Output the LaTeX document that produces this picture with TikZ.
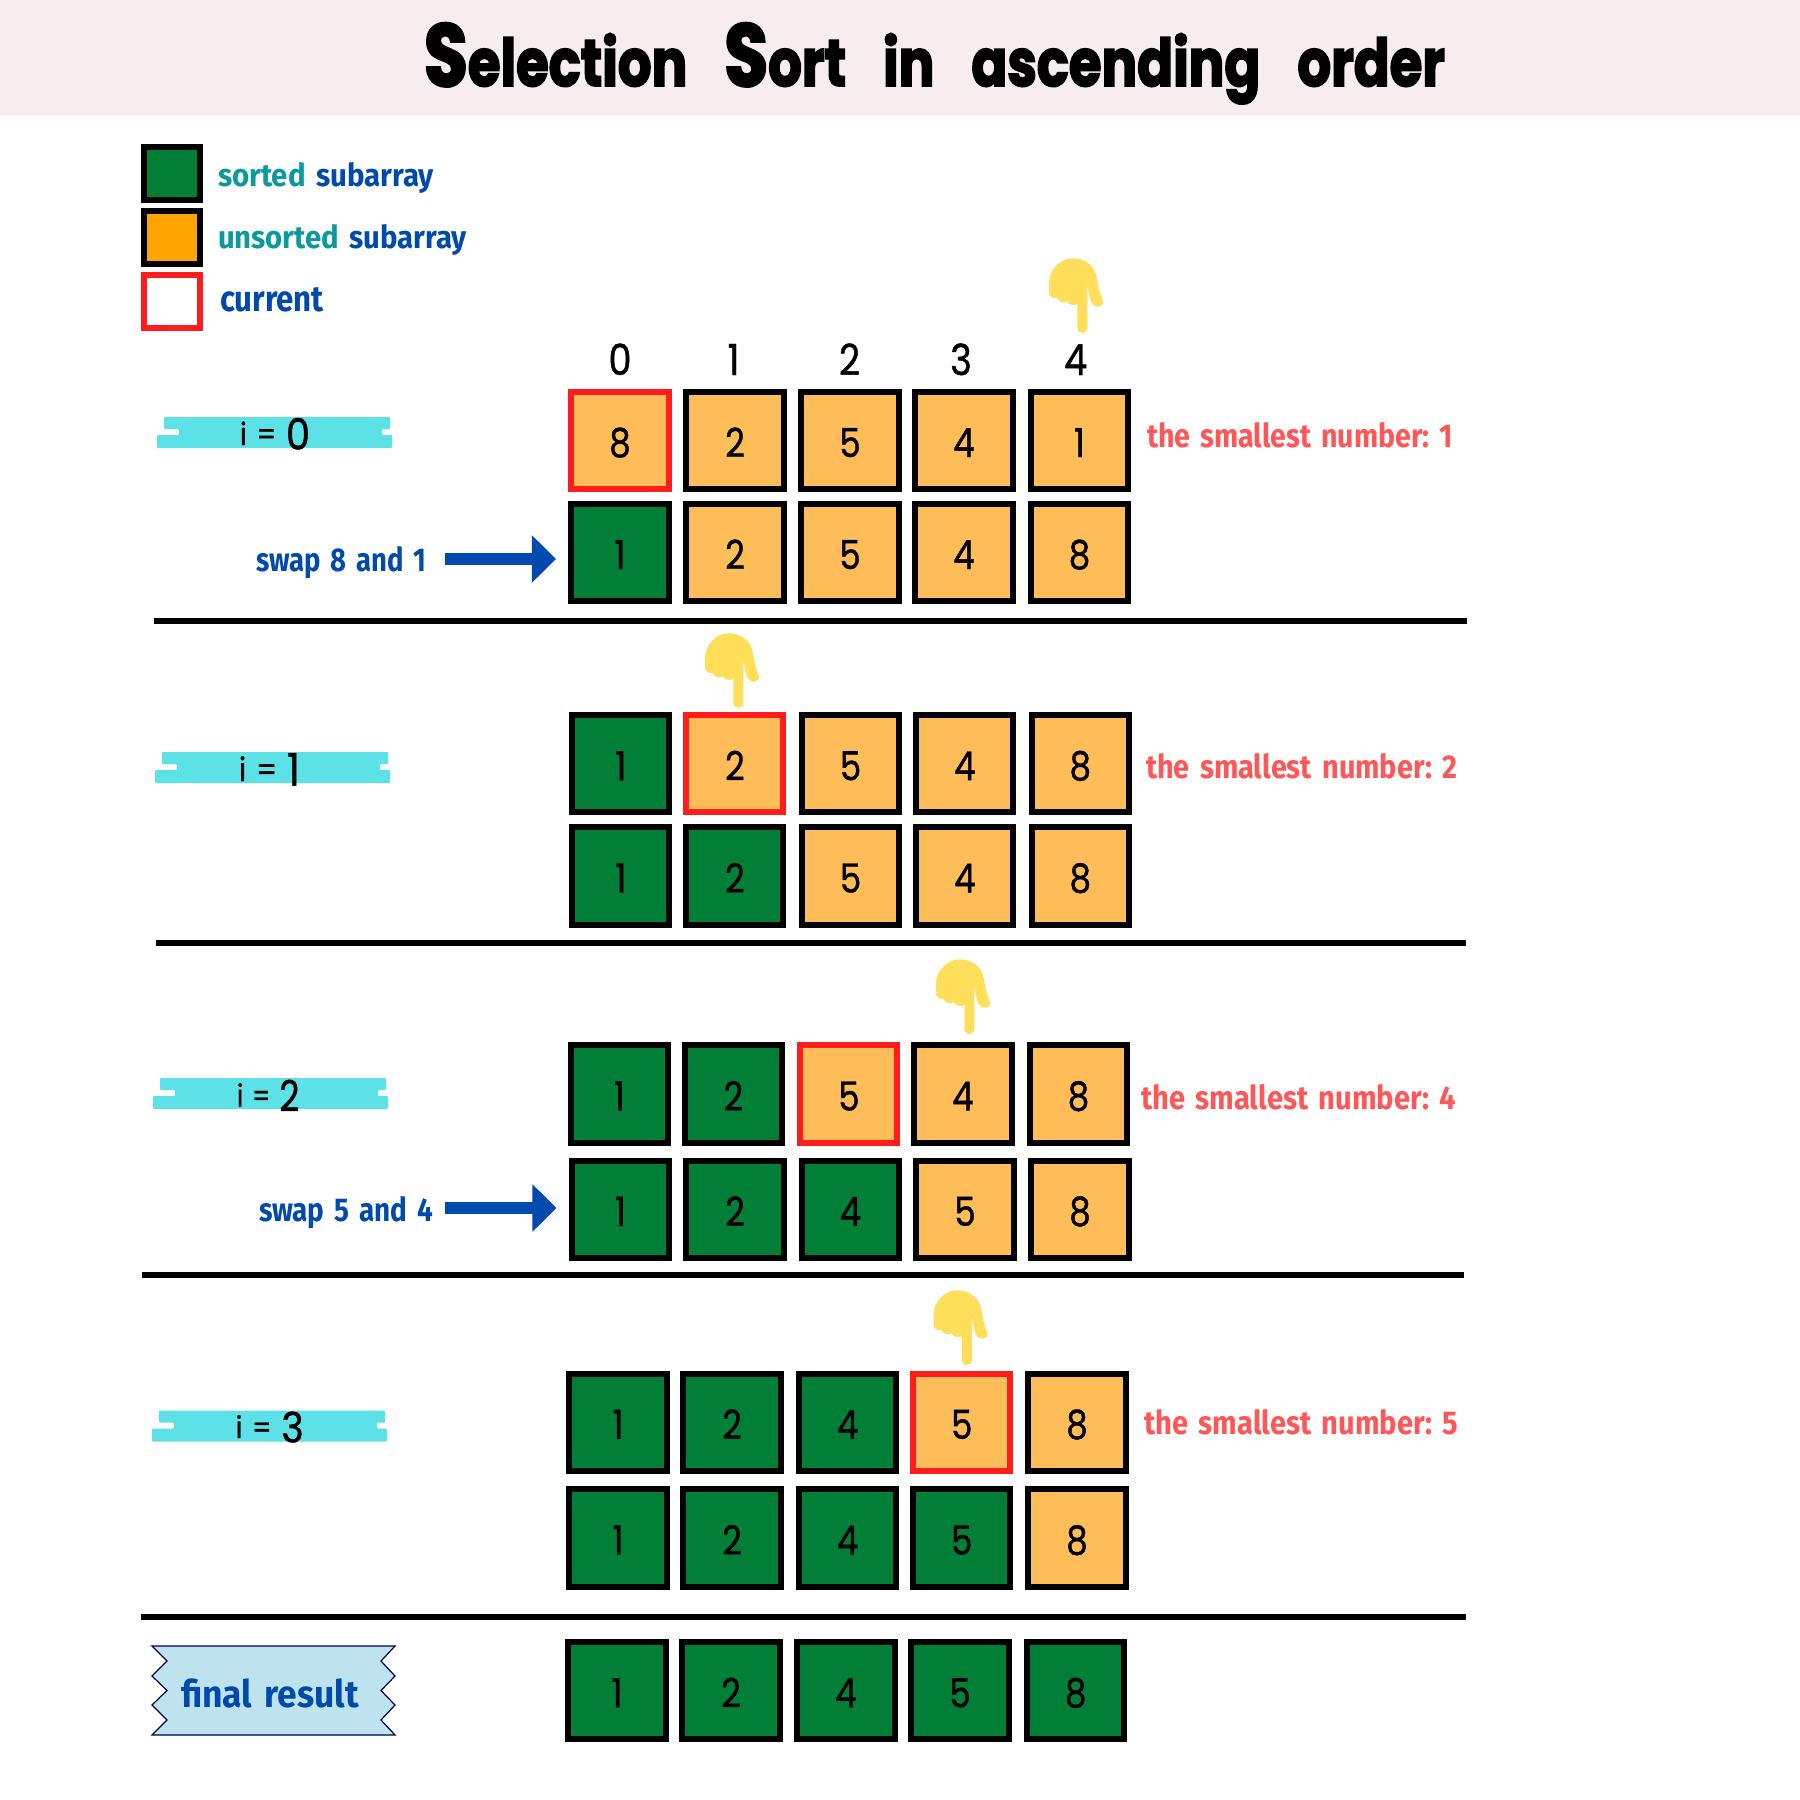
\documentclass[tikz,border=0pt]{standalone}
\usepackage{fontspec}
\usepackage{graphicx}
\usetikzlibrary{arrows.meta}
\newfontfamily\titlefont[BoldFeatures={FakeBold=3}]{Poppins}
\newfontfamily\lblfont[WordSpace=1.5]{Fira Sans}
\newfontfamily\dgfont[FakeStretch=.85,FakeBold=1]{Poppins}
\newlength\pxu \setlength\pxu{0.01cm}
\newcommand\fit[3]{\resizebox{#1\pxu}{#2\pxu}{#3}}
\definecolor{headc}{HTML}{F7EDEF}
\definecolor{greenc}{HTML}{027F37}
\definecolor{orangec}{HTML}{FFA500}
\definecolor{cellc}{HTML}{FFBD59}
\definecolor{redc}{HTML}{FF1C1C}
\definecolor{handc}{HTML}{FFDE59}
\definecolor{tapec}{HTML}{5CE1E6}
\definecolor{ftapec}{HTML}{BFE3EE}
\definecolor{bluec}{HTML}{004AAD}
\definecolor{tealc}{HTML}{0A9A9E}
\definecolor{salmonc}{HTML}{FF5757}
\tikzset{
  cellbox/.style={rectangle,draw=black,line width=.06cm,minimum size=.97cm,inner sep=0pt,outer sep=0pt,
    text height=9.4pt,text depth=0pt,font=\dgfont\fontsize{11.4}{12}\selectfont,text=black},
  srt/.style={cellbox,fill=greenc},
  uns/.style={cellbox,fill=cellc},
  cur/.style={cellbox,fill=cellc,draw=redc},
  legbox/.style={rectangle,line width=.06cm,minimum width=.56cm,minimum height=.53cm,inner sep=0pt,outer sep=0pt},
  lab/.style={anchor=base west,inner sep=0pt,outer sep=0pt,font=\lblfont\bfseries},
  ilab/.style={anchor=base west,inner sep=0pt,outer sep=0pt,text=black},
  idxlab/.style={anchor=base,inner sep=0pt,outer sep=0pt,font=\dgfont\fontsize{12.2}{13}\selectfont,text=black},
  divider/.style={line width=.06cm,black},
  swaparrow/.style={draw=bluec,line width=.115cm,-{Triangle[length=.24cm,width=.46cm,fill=bluec]},shorten >=.155cm},
  pics/hand/.style={code={
    \fill[handc] (-9.3,-74.7) .. controls (-22,-74.7) and (-33,-63) .. (-33,-50) -- (-33,-40)
      .. controls (-33,-36) and (-28,-34) .. (-25.5,-35.5)
      .. controls (-24,-31) and (-18,-29) .. (-15.5,-32)
      .. controls (-13,-28) and (-8,-27) .. (-4.7,-29) -- (-4.7,-5)
      .. controls (-4.7,1.5) and (5.3,1.5) .. (5.3,-5) -- (5.3,-50)
      .. controls (6.5,-42) and (7.5,-33) .. (10,-29.5)
      .. controls (12.5,-25) and (21,-25) .. (21,-31.5)
      .. controls (17,-42) and (15.5,-50) .. (14.7,-56)
      .. controls (12.5,-67) and (3,-74.7) .. (-9.3,-74.7) -- cycle;
  }},
  pics/tape/.style={code={
    \fill[tapec,rounded corners=.01cm] (7,0) -- (233,0) -- (233,12) -- (225,12) -- (225,18) -- (235,18) -- (235,31)
      -- (0,31) -- (0,18) -- (22,18) -- (22,12) -- (7,12) -- cycle;
  }}
}
\newcommand\ilabel[3]{\fit{#1}{#2}{\dgfont{\fontsize{9}{10}\selectfont i\hspace{.3em}=\hspace{.3em}}\raisebox{-1.3pt}{\fontsize{12.5}{13}\selectfont #3}}}
\newcommand\smallest[3]{\fit{#1}{#2}{the smallest number:\hspace{.35em}#3}}
\begin{document}
\begin{tikzpicture}[x=.01cm,y=-.01cm]
\useasboundingbox (0,0) rectangle (1800,1800);
\fill[white] (0,0) rectangle (1800,1800);
\fill[headc] (0,0) rectangle (1800,115.5);
\node[ilab] (title) at (424,86) {\fit{1021}{63}{\titlefont\bfseries\fontsize{21.5}{26}\selectfont{\fontsize{29}{30}\selectfont S}election\hspace{.7em}{\fontsize{29}{30}\selectfont S}ort\hspace{.7em}in\hspace{.7em}ascending\hspace{.7em}order}};
% legend
\node[legbox,draw=black,fill=greenc] (legs) at (172,173.8) {};
\node[legbox,draw=black,fill=orangec] (legu) at (172,237.2) {};
\node[legbox,draw=redc,fill=white] (legc) at (172,301.5) {};
\node[lab] (legst) at (218,186) {\fit{216}{24}{\textcolor{tealc}{sorted} \textcolor{bluec}{subarray}}};
\node[lab] (legut) at (218,248.7) {\fit{249}{24}{\textcolor{tealc}{unsorted} \textcolor{bluec}{subarray}}};
\node[lab,text=bluec] (legct) at (220,311) {\fit{104}{24}{current}};
% index labels
\foreach \x/\v [count=\k] in {620/0,733.6/1,849.5/2,961/3,1075.7/4}
  \node[idxlab] (idx\k) at (\x,375) {\v};
% row i=0
\foreach \x/\v/\s [count=\k] in {620/8/cur,735/2/uns,850/5/uns,964/4/uns,1079.5/1/uns}
  \node[\s] (ra\k) at (\x,440.5) {\v};
\foreach \x/\v/\s [count=\k] in {620/1/srt,735/2/uns,850/5/uns,964/4/uns,1079.5/8/uns}
  \node[\s] (rb\k) at (\x,552.5) {\v};
% row i=1
\foreach \x/\v/\s [count=\k] in {620.8/1/srt,734.9/2/cur,850.5/5/uns,964.9/4/uns,1080.3/8/uns}
  \node[\s] (rc\k) at (\x,763.7) {\v};
\foreach \x/\v/\s [count=\k] in {620.8/1/srt,734.9/2/srt,850.5/5/uns,964.9/4/uns,1080.3/8/uns}
  \node[\s] (rd\k) at (\x,876) {\v};
% row i=2
\foreach \x/\v/\s [count=\k] in {619.5/1/srt,733.4/2/srt,848.9/5/cur,963/4/uns,1078.5/8/uns}
  \node[\s] (re\k) at (\x,1094) {\v};
\foreach \x/\v/\s [count=\k] in {620.5/1/srt,735/2/srt,850.5/4/srt,965/5/uns,1080/8/uns}
  \node[\s] (rf\k) at (\x,1209.3) {\v};
% row i=3
\foreach \x/\v/\s [count=\k] in {618/1/srt,732/2/srt,847.6/4/srt,961.7/5/cur,1077/8/uns}
  \node[\s] (rg\k) at (\x,1422.3) {\v};
\foreach \x/\v/\s [count=\k] in {618/1/srt,732/2/srt,847.6/4/srt,961.7/5/srt,1077/8/uns}
  \node[\s] (rh\k) at (\x,1538) {\v};
% final
\foreach \x/\v/\s [count=\k] in {617/1/srt,731/2/srt,846/4/srt,960/5/srt,1075.7/8/srt}
  \node[\s] (ri\k) at (\x,1690.7) {\v};
% hands
\pic at (1082,333) {hand};
\pic at (738,708) {hand};
\pic at (969,1034) {hand};
\pic at (966.5,1365) {hand};
% tapes and their labels
\pic at (157,417) {tape};
\pic at (155,752) {tape};
\pic at (153,1078) {tape};
\pic at (152,1410.5) {tape};
\node[ilab] (i0) at (240,445) {\ilabel{70}{27}{0}};
\node[ilab] (i1) at (239,781) {\ilabel{61}{28}{1}};
\node[ilab] (i2) at (237,1106.7) {\ilabel{62.5}{27}{2}};
\node[ilab] (i3) at (235.7,1438) {\ilabel{68}{26.5}{3}};
% smallest
\node[lab,text=salmonc] (s0) at (1147,447) {\smallest{306}{25}{1}};
\node[lab,text=salmonc] (s1) at (1146,778.5) {\smallest{311}{25}{2}};
\node[lab,text=salmonc] (s2) at (1141,1109) {\smallest{315}{25}{4}};
\node[lab,text=salmonc] (s3) at (1144.5,1434) {\smallest{313.5}{25}{5}};
% swaps
\node[lab,text=bluec] (sw0) at (256,571) {\fit{170}{25}{swap 8 and 1}};
\node[lab,text=bluec] (sw2) at (259,1221.7) {\fit{174}{25}{swap 5 and 4}};
\coordinate (a0) at (445,559);
\coordinate (a2) at (445,1208);
\draw[swaparrow] (a0) -- (a0 -| rb1.west);
\draw[swaparrow] (a2) -- (a2 -| rf1.west);
% dividers
\coordinate (d1a) at (154,620.5); \coordinate (d1b) at (1467,620.5);
\coordinate (d2a) at (156,942.6); \coordinate (d2b) at (1466,942.6);
\coordinate (d3a) at (142,1274.5); \coordinate (d3b) at (1464,1274.5);
\coordinate (d4a) at (141,1617); \coordinate (d4b) at (1466,1617);
\draw[divider] (d1a) -- (d1b);
\draw[divider] (d2a) -- (d2b);
\draw[divider] (d3a) -- (d3b);
\draw[divider] (d4a) -- (d4b);
% final tape
\draw[fill=ftapec,draw=black!70!blue,line width=.012cm,line join=miter]
  (152,1646) -- (395,1646) -- (381,1661) -- (395,1676) -- (381,1690.5) -- (395,1705) -- (381,1720) -- (395,1735)
  -- (152,1735) -- (167,1720) -- (152,1705) -- (167,1690.5) -- (152,1676) -- (167,1661) -- cycle;
\node[lab,text=bluec] (fr) at (181,1707.7) {\fit{178}{28.7}{final result}};
\end{tikzpicture}
\end{document}
